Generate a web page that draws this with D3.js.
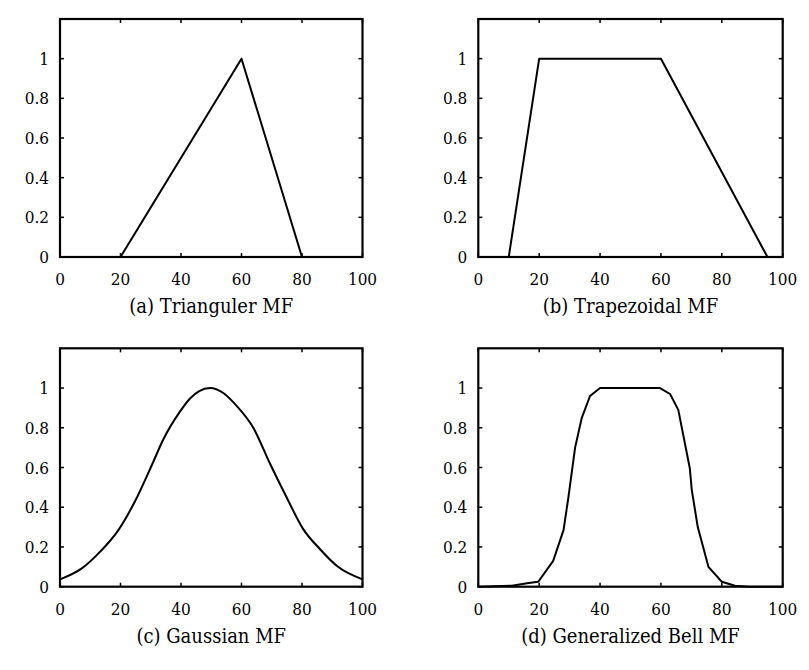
<!DOCTYPE html>
<html>
<head>
<meta charset="utf-8">
<script src="https://cdn.jsdelivr.net/npm/d3@7"></script>
<style>
  html, body { margin: 0; padding: 0; background: #fff; }
  svg { display: block; }
  .tk, .tt { font-family: "DejaVu Serif Condensed", "DejaVu Serif"; font-stretch: condensed; }
</style>
</head>
<body>
<svg id="chart" width="809" height="670"></svg>
<script>
// ---- data ----
const xTicks = [0, 20, 40, 60, 80, 100];
const yTicks = [0, 0.2, 0.4, 0.6, 0.8, 1];
const titles = ["(a) Trianguler MF", "(b) Trapezoidal MF", "(c) Gaussian MF", "(d) Generalized Bell MF"];

const triX = [0, 20, 60, 80, 100];
const triY = [0, 0, 1, 0, 0];

const trapX = [0, 10, 20, 60, 95, 100];
const trapY = [0, 0, 1, 1, 0, 0];

const gaussX = [0, 7.2, 13.2, 19.3, 24.8, 30.3, 34.1, 39.6, 42.9, 46, 49.6, 54, 58.4, 63.9, 69.4, 74.9, 80.4, 85.9, 91.9, 100];
const gaussY = [0.037, 0.092, 0.175, 0.285, 0.43, 0.61, 0.74, 0.88, 0.946, 0.985, 1.0, 0.975, 0.91, 0.80, 0.62, 0.45, 0.29, 0.19, 0.10, 0.037];

const bellX = [0, 11, 16, 19.7, 24.6, 28, 29.6, 31.8, 34, 36.7, 40, 59.7, 63, 65.7, 69.5, 70.1, 72.1, 75.6, 80, 84.3, 89, 100];
const bellY = [0, 0.005, 0.017, 0.025, 0.13, 0.285, 0.45, 0.70, 0.85, 0.96, 1.0, 1.0, 0.97, 0.89, 0.595, 0.49, 0.30, 0.10, 0.025, 0.005, 0, 0];

// ---- layout ----
const panels = [
  { xs: triX,   ys: triY,   left: 60,    right: 362.5, top: 19,    bottom: 257,   curve: d3.curveLinear },
  { xs: trapX,  ys: trapY,  left: 478.3, right: 782.7, top: 19,    bottom: 257,   curve: d3.curveLinear },
  { xs: gaussX, ys: gaussY, left: 60,    right: 362.5, top: 348.3, bottom: 586.7, curve: d3.curveMonotoneX },
  { xs: bellX,  ys: bellY,  left: 478.3, right: 782.7, top: 348.3, bottom: 586.7, curve: d3.curveLinear }
];

const svg = d3.select("#chart");
const fmt = d3.format("~g");

panels.forEach((p, i) => {
  const x = d3.scaleLinear().domain([0, 100]).range([p.left, p.right]);
  const y = d3.scaleLinear().domain([0, 1.2]).range([p.bottom, p.top]);
  const g = svg.append("g");

  const pts = p.xs.map((v, k) => [v, p.ys[k]]);
  g.append("path")
    .datum(pts)
    .attr("fill", "none")
    .attr("stroke", "#000")
    .attr("stroke-width", 2)
    .attr("stroke-linejoin", "round")
    .attr("d", d3.line().x(d => x(d[0])).y(d => y(d[1])).curve(p.curve));

  g.append("rect")
    .attr("x", p.left).attr("y", p.top)
    .attr("width", p.right - p.left).attr("height", p.bottom - p.top)
    .attr("fill", "none").attr("stroke", "#000").attr("stroke-width", 2.2);

  const tl = 4;
  xTicks.forEach(t => {
    g.append("line").attr("x1", x(t)).attr("x2", x(t)).attr("y1", p.bottom).attr("y2", p.bottom - tl)
      .attr("stroke", "#000").attr("stroke-width", 1.5);
    g.append("line").attr("x1", x(t)).attr("x2", x(t)).attr("y1", p.top).attr("y2", p.top + tl)
      .attr("stroke", "#000").attr("stroke-width", 1.5);
    g.append("text").attr("class", "tk").attr("x", x(t)).attr("y", p.bottom + 28)
      .attr("text-anchor", "middle").attr("font-size", 17).text(fmt(t));
  });
  yTicks.forEach(t => {
    g.append("line").attr("x1", p.left).attr("x2", p.left + tl).attr("y1", y(t)).attr("y2", y(t))
      .attr("stroke", "#000").attr("stroke-width", 1.5);
    g.append("line").attr("x1", p.right).attr("x2", p.right - tl).attr("y1", y(t)).attr("y2", y(t))
      .attr("stroke", "#000").attr("stroke-width", 1.5);
    g.append("text").attr("class", "tk").attr("x", p.left - 11).attr("y", y(t) + 6)
      .attr("text-anchor", "end").attr("font-size", 17).text(fmt(t));
  });

  g.append("text").attr("class", "tt").attr("x", (p.left + p.right) / 2).attr("y", p.bottom + 56)
    .attr("text-anchor", "middle").attr("font-size", 20).text(titles[i]);
});
</script>
</body>
</html>
